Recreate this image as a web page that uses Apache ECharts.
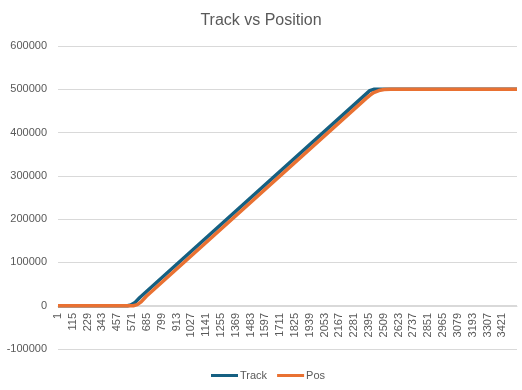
<!DOCTYPE html>
<html>
<head>
<meta charset="utf-8">
<script src="https://cdn.jsdelivr.net/npm/echarts@6/dist/echarts.min.js"></script>
<style>html,body{margin:0;padding:0;background:#fff}#c{width:522px;height:390px}</style>
</head>
<body>
<div id="c"></div>
<script>
// Number of samples on the category axis (labels 1..N)
var pointCount = 3534;
var categories = [];
for (var i = 1; i <= pointCount; i++) categories.push(String(i));

// [categoryIndex, value] vertices
var trackData = [
  [0, 0], [535, 0], [560, 1500], [590, 6500], [630, 19000],
  [2400, 496800], [2415, 499500], [2430, 500000], [3533, 500000]
];
var posData = [
  [0, 0], [580, 0], [610, 2500], [640, 9000], [680, 22000],
  [2370, 478500], [2400, 486000], [2430, 492500], [2470, 497000],
  [2510, 499300], [2560, 500000], [3533, 500000]
];
var yTicks = { min: -100000, max: 600000, interval: 100000 };

var chart = echarts.init(document.getElementById('c'), null, { renderer: 'canvas' });
var font = 'Liberation Sans, Arial, sans-serif';
chart.setOption({
  animation: false,
  title: {
    text: 'Track vs Position', left: 'center', top: 8,
    textStyle: { fontFamily: font, fontSize: 16, fontWeight: 'normal', color: '#595959' }
  },
  legend: {
    bottom: 4, left: 206, itemWidth: 27, itemHeight: 3, itemGap: 10,
    icon: 'rect',
    textStyle: { fontFamily: font, fontSize: 11, color: '#595959', padding: [0, 0, 0, -3] },
    data: ['Track', 'Pos']
  },
  grid: { left: 58, right: 5, top: 46, bottom: 41, containLabel: false },
  xAxis: {
    type: 'category', data: categories, boundaryGap: false,
    position: 'bottom', offset: -43,
    axisLine: { onZero: false, lineStyle: { color: '#d9d9d9', width: 1 } },
    axisTick: { show: false },
    axisLabel: { interval: 113, rotate: 90, fontFamily: font, fontSize: 11, color: '#595959', margin: 7 },
    splitLine: { show: false }
  },
  yAxis: {
    type: 'value', min: yTicks.min, max: yTicks.max, interval: yTicks.interval,
    axisLine: { show: false }, axisTick: { show: false },
    axisLabel: { fontFamily: font, fontSize: 11, color: '#595959', margin: 11,
      formatter: function (v) { return String(v); } },
    splitLine: { lineStyle: { color: '#d9d9d9', width: 1 } }
  },
  series: [
    { name: 'Track', type: 'line', data: trackData, showSymbol: false, symbol: 'none',
      lineStyle: { color: '#156082', width: 3.5 }, itemStyle: { color: '#156082' } },
    { name: 'Pos', type: 'line', data: posData, showSymbol: false, symbol: 'none',
      lineStyle: { color: '#E97132', width: 3.5 }, itemStyle: { color: '#E97132' } }
  ]
});
</script>
</body>
</html>
